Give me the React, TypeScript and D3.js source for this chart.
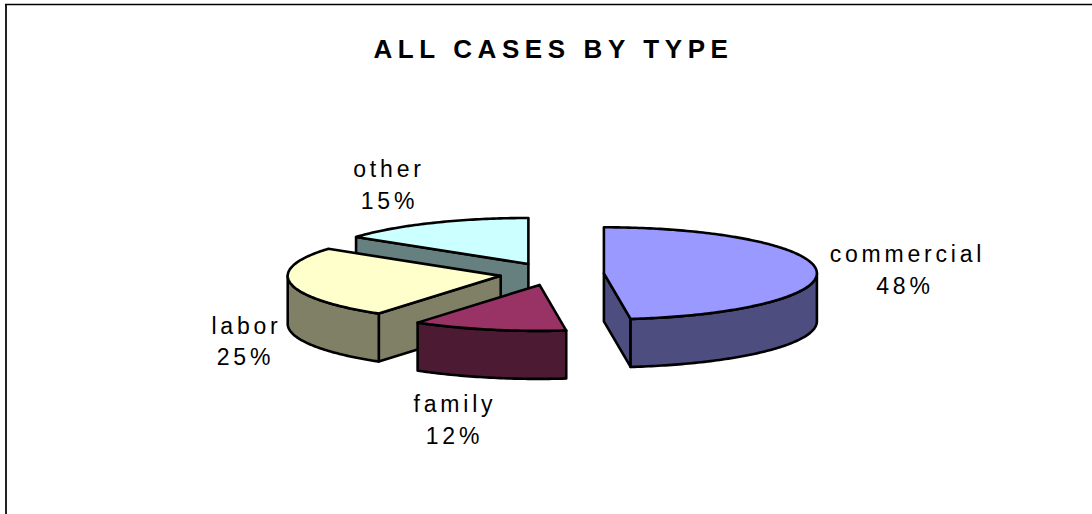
import React from "react";
import * as d3 from "d3";

const titleText = "ALL CASES BY TYPE";
const categories = ["commercial", "family", "labor", "other"];
const shares = [48, 11.7, 25.3, 15];
const percentLabels = ["48%", "12%", "25%", "15%"];
const topColors = ["#9999FF", "#993366", "#FFFFCC", "#CCFFFF"];
const wallColors = ["#4D4D80", "#4D1A33", "#808066", "#668080"];
const drawOrder = [3, 2, 0, 1];
const nameAnchors = [[907.5, 262], [455, 412], [246.5, 334], [389, 177]];
const percentAnchors = [[905, 294], [454.5, 444], [245.5, 365], [389.5, 209]];

const W = 1092, H = 514;
const cx = 552, cy = 274, rx = 213, ry = 46, depth = 48, explode = 52;
const HALF = Math.PI / 2, TAU = Math.PI * 2;
const font = "'Liberation Sans', Arial, sans-serif";

const arcs = d3.pie<number>().sort(null).startAngle(0).endAngle(TAU)(shares);
const line = d3.line<[number, number]>();

function steps(a0: number, a1: number): number[] {
  const n = Math.max(2, Math.ceil((a1 - a0) * 60));
  return d3.range(n + 1).map((i) => a0 + ((a1 - a0) * i) / n);
}

export default function App() {
  const slices = drawOrder.map((i) => {
    const arc = arcs[i];
    const mid = (arc.startAngle + arc.endAngle) / 2;
    const sx = d3.scaleLinear().domain([-1, 1]).range([cx + explode * Math.sin(mid) - rx, cx + explode * Math.sin(mid) + rx]);
    const sy = d3.scaleLinear().domain([-1, 1]).range([cy - (explode * Math.cos(mid) * ry) / rx - ry, cy - (explode * Math.cos(mid) * ry) / rx + ry]);
    const pt = (a: number, drop = 0): [number, number] => [sx(Math.sin(a)), sy(-Math.cos(a)) + drop];
    const apex = (drop = 0): [number, number] => [sx(0), sy(0) + drop];
    const top = [apex(), ...steps(arc.startAngle, arc.endAngle).map((a) => pt(a))];
    const walls: [number, number][][] = [];
    const radialWall = (a: number) => [apex(), pt(a), pt(a, depth), apex(depth)] as [number, number][];
    if (arc.startAngle > Math.PI && arc.startAngle < TAU) walls.push(radialWall(arc.startAngle));
    if (arc.endAngle > 0 && arc.endAngle < Math.PI) walls.push(radialWall(arc.endAngle));
    const lo = Math.max(arc.startAngle, HALF), hi = Math.min(arc.endAngle, 3 * HALF);
    if (hi > lo) {
      const s = steps(lo, hi);
      walls.push([...s.map((a) => pt(a)), ...s.slice().reverse().map((a) => pt(a, depth))]);
    }
    return { i, top, walls };
  });

  return (
    <svg width={W} height={H} viewBox={`0 0 ${W} ${H}`} style={{ position: "absolute", left: 0, top: 0, display: "block" }}>
      <rect width={W} height={H} fill="#FFFFFF" />
      <line x1={6} y1={4} x2={6} y2={H} stroke="#222" strokeWidth={2} />
      <line x1={5} y1={4.5} x2={W} y2={4.5} stroke="#000" strokeWidth={1.5} />
      <text x={553.5} y={57.5} textAnchor="middle" fontFamily={font} fontWeight="bold" fontSize={26} letterSpacing={5.6} fill="#000">
        {titleText}
      </text>
      {slices.map(({ i, top, walls }) => (
        <g key={categories[i]} stroke="#000" strokeWidth={2.6} strokeLinejoin="round">
          {walls.map((w, k) => (
            <path key={k} d={line(w) + "Z"} fill={wallColors[i]} />
          ))}
          <path d={line(top) + "Z"} fill={topColors[i]} />
        </g>
      ))}
      {categories.map((c, i) => (
        <text key={c} textAnchor="middle" fontFamily={font} fontSize={23} letterSpacing={3.8} fill="#000">
          <tspan x={nameAnchors[i][0]} y={nameAnchors[i][1]}>{c}</tspan>
          <tspan x={percentAnchors[i][0]} y={percentAnchors[i][1]}>{percentLabels[i]}</tspan>
        </text>
      ))}
    </svg>
  );
}
